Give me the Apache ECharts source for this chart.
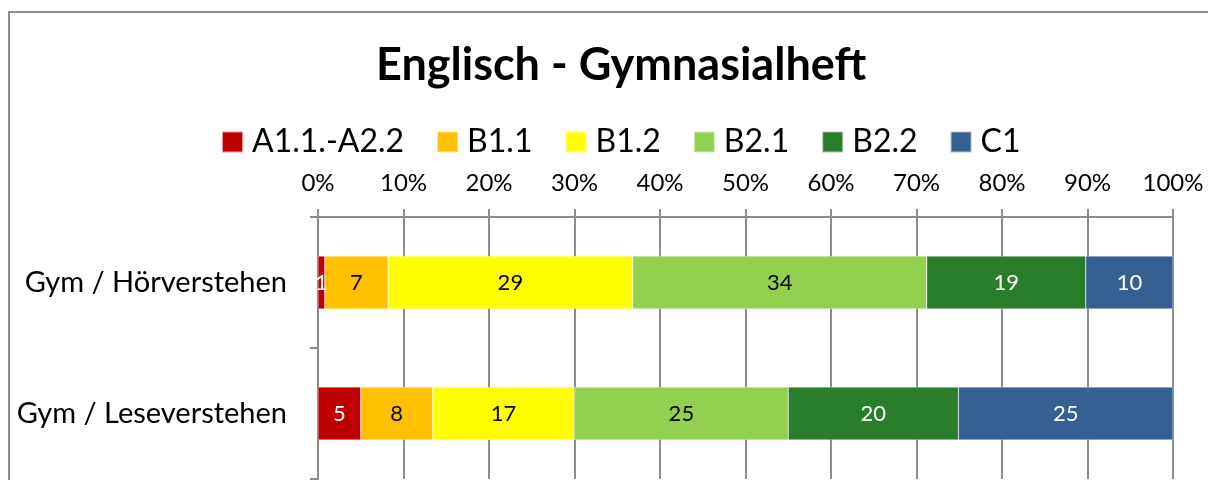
<!DOCTYPE html>
<html>
<head>
<meta charset="utf-8">
<script src="https://cdn.jsdelivr.net/npm/echarts@6/dist/echarts.min.js"></script>
<style>
  html, body { margin: 0; padding: 0; background: #fff; }
  #frame {
    position: absolute; left: 8px; top: 11px; width: 1300px; height: 600px;
    border: 2px solid #8c8c8c; box-sizing: border-box;
  }
  #chart { position: absolute; left: 0; top: 0; width: 1208px; height: 480px; }
</style>
</head>
<body>
<div id="frame"></div>
<div id="chart"></div>
<script>
// Kategorien (von oben nach unten)
var categories = ['Gym / Hörverstehen', 'Gym / Leseverstehen'];
var levels = ['A1.1.-A2.2', 'B1.1', 'B1.2', 'B2.1', 'B2.2', 'C1'];
var colors = ['#C00000', '#FFC000', '#FFFF00', '#92D050', '#2A7D2A', '#376092'];
var labelColors = ['#fff', '#000', '#000', '#000', '#fff', '#fff'];
// Prozentwerte je Niveau: [Hörverstehen, Leseverstehen]
var valA = [0.8, 5.0];
var valB11 = [7.4, 8.4];
var valB12 = [28.6, 16.6];
var valB21 = [34.4, 25.0];
var valB22 = [18.6, 19.9];
var valC1 = [10.2, 25.1];
var tickLabels = ['0%', '10%', '20%', '30%', '40%', '50%', '60%', '70%', '80%', '90%', '100%'];

var seriesValues = [valA, valB11, valB12, valB21, valB22, valC1];
var font = 'Lato, "Open Sans", sans-serif';

var chart = echarts.init(document.getElementById('chart'));

var series = levels.map(function (name, i) {
  return {
    name: name,
    type: 'bar',
    stack: 'total',
    barWidth: 53,
    itemStyle: { color: colors[i], borderColor: 'rgba(255,255,255,0.6)', borderWidth: 0.5 },
    label: {
      show: true,
      position: 'inside',
      color: labelColors[i],
      fontFamily: font,
      fontSize: 22,
      formatter: function (p) { return Math.round(p.value); }
    },
    data: seriesValues[i]
  };
});

chart.setOption({
  animation: false,
  title: {
    text: 'Englisch - Gymnasialheft',
    left: 371,
    top: 38,
    textStyle: { fontFamily: font, fontSize: 45, fontWeight: 'bold', color: '#000' }
  },
  legend: {
    top: 121,
    left: 216,
    itemWidth: 21,
    itemHeight: 21,
    itemGap: 32,
    icon: 'rect',
    textStyle: { fontFamily: font, fontSize: 32, color: '#000', padding: [0, 0, 0, 4] },
    data: levels
  },
  grid: { left: 318, right: 35, top: 217, bottom: 1 },
  xAxis: {
    type: 'value',
    position: 'top',
    min: 0,
    max: 100,
    interval: 10,
    axisLine: { show: true, lineStyle: { color: '#8c8c8c', width: 2 } },
    axisTick: { show: true, length: 8, lineStyle: { color: '#8c8c8c', width: 2 } },
    axisLabel: {
      fontFamily: font, fontSize: 24, color: '#000', margin: 22,
      formatter: function (v) { return tickLabels[Math.round(v / 10)]; }
    },
    splitLine: { show: true, lineStyle: { color: '#8c8c8c', width: 2 } }
  },
  yAxis: {
    type: 'category',
    inverse: true,
    data: categories,
    axisLine: { show: true, lineStyle: { color: '#8c8c8c', width: 2 } },
    axisTick: { show: true, length: 8, lineStyle: { color: '#8c8c8c', width: 2 } },
    axisLabel: { fontFamily: font, fontSize: 29, color: '#000', margin: 31 }
  },
  series: series
});
</script>
</body>
</html>
